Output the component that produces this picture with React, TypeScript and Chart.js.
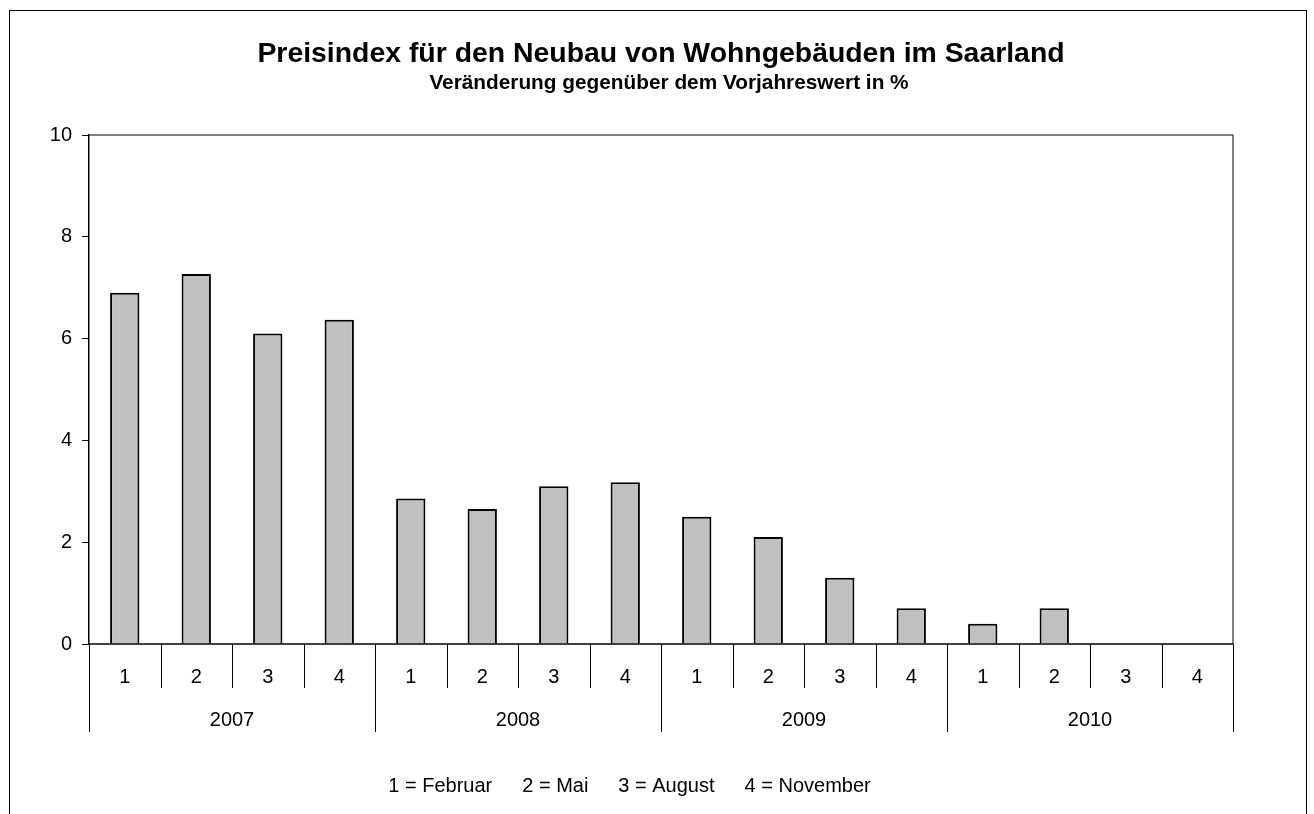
import React, { useEffect, useRef } from "react";
import { Chart, registerables } from "chart.js";

Chart.register(...registerables);

const TITLE = "Preisindex für den Neubau von Wohngebäuden im Saarland";
const SUBTITLE = "Veränderung gegenüber dem Vorjahreswert in %";
const years = ["2007", "2008", "2009", "2010"];
const quarters = ["1", "2", "3", "4"];
const values: (number | null)[] = [
  6.9, 7.27, 6.1, 6.37,
  2.86, 2.65, 3.1, 3.18,
  2.5, 2.1, 1.3, 0.7,
  0.4, 0.7, null, null,
];
const legendItems = ["1 = Februar", "2 = Mai", "3 = August", "4 = November"];
const yTicks = [0, 2, 4, 6, 8, 10];

const FONT = '"Liberation Sans", Arial, sans-serif';

export default function App() {
  const ref = useRef<HTMLCanvasElement | null>(null);

  useEffect(() => {
    if (!ref.current) return;
    const labels = years.flatMap((y) => quarters.map((q) => `${y}-${q}`));

    const decor = {
      id: "decor",
      afterDraw(chart: any) {
        const { ctx, chartArea: ca } = chart;
        const x = chart.scales.x;
        const line = (x1: number, y1: number, x2: number, y2: number) => {
          ctx.beginPath();
          ctx.moveTo(x1, y1);
          ctx.lineTo(x2, y2);
          ctx.stroke();
        };
        ctx.save();
        ctx.strokeStyle = "#000";
        ctx.lineWidth = 1;
        // outer frame
        ctx.strokeRect(1.5, 2.5, 1297, 900);
        // plot border
        line(ca.left, ca.top, ca.right, ca.top);
        line(ca.right, ca.top, ca.right, ca.bottom);
        ctx.lineWidth = 1.5;
        line(ca.left, ca.bottom, ca.right, ca.bottom);
        ctx.lineWidth = 1;

        // category axis
        const n = labels.length;
        const half = (x.getPixelForValue(1) - x.getPixelForValue(0)) / 2;
        for (let i = 0; i <= n; i++) {
          const bx = i < n ? x.getPixelForValue(i) - half : x.getPixelForValue(n - 1) + half;
          const len = i % quarters.length === 0 ? 88 : 44;
          line(Math.round(bx) + 0.5, ca.bottom, Math.round(bx) + 0.5, ca.bottom + len);
        }
        ctx.fillStyle = "#000";
        ctx.textAlign = "center";
        ctx.textBaseline = "middle";
        ctx.font = `20px ${FONT}`;
        for (let i = 0; i < n; i++) {
          ctx.fillText(quarters[i % quarters.length], x.getPixelForValue(i), ca.bottom + 33);
        }
        years.forEach((y, yi) => {
          const a = x.getPixelForValue(yi * quarters.length) - half;
          const b = x.getPixelForValue(yi * quarters.length + quarters.length - 1) + half;
          ctx.fillText(y, (a + b) / 2, ca.bottom + 76);
        });

        // legend text
        ctx.font = `20px ${FONT}`;
        const gap = 30;
        const widths = legendItems.map((t) => ctx.measureText(t).width);
        const total = widths.reduce((s, w) => s + w, 0) + gap * (legendItems.length - 1);
        let lx = 621.5 - total / 2;
        ctx.textAlign = "left";
        legendItems.forEach((t, i) => {
          ctx.fillText(t, lx, 778);
          lx += widths[i] + gap;
        });

        // titles
        ctx.textAlign = "center";
        ctx.textBaseline = "alphabetic";
        ctx.font = `bold 28.4px ${FONT}`;
        ctx.fillText(TITLE, 653, 54);
        ctx.font = `bold 20.8px ${FONT}`;
        ctx.fillText(SUBTITLE, 661, 81);
        ctx.restore();
      },
    };

    const chart = new Chart(ref.current, {
      type: "bar",
      data: {
        labels,
        datasets: [
          {
            data: values,
            backgroundColor: "#c0c0c0",
            borderColor: "#000",
            borderWidth: 2,
            barPercentage: 0.41,
            categoryPercentage: 1,
          },
        ],
      },
      options: {
        responsive: false,
        animation: false,
        devicePixelRatio: 1,
        layout: { padding: { top: 127, left: 0, right: 75, bottom: 170 } },
        plugins: {
          legend: { display: false },
          tooltip: { enabled: false },
          title: { display: false },
        },
        scales: {
          x: {
            display: false,
          },
          y: {
            min: 0,
            max: 10,
            afterFit: (s: any) => {
              s.width = 81;
            },
            afterBuildTicks: (s: any) => {
              s.ticks = yTicks.map((v) => ({ value: v }));
            },
            grid: {
              display: true,
              drawOnChartArea: false,
              drawTicks: true,
              tickLength: 7,
              color: "#000",
              lineWidth: 1,
            },
            border: { display: true, color: "#000", width: 1.5 },
            ticks: {
              color: "#000",
              padding: 10,
              font: { family: FONT, size: 20 },
            },
          },
        },
      },
      plugins: [decor],
    });
    return () => chart.destroy();
  }, []);

  return (
    <div style={{ position: "fixed", left: 8, top: 8, width: 1300, height: 806 }}>
      <canvas ref={ref} width={1300} height={806} style={{ display: "block" }} />
    </div>
  );
}
